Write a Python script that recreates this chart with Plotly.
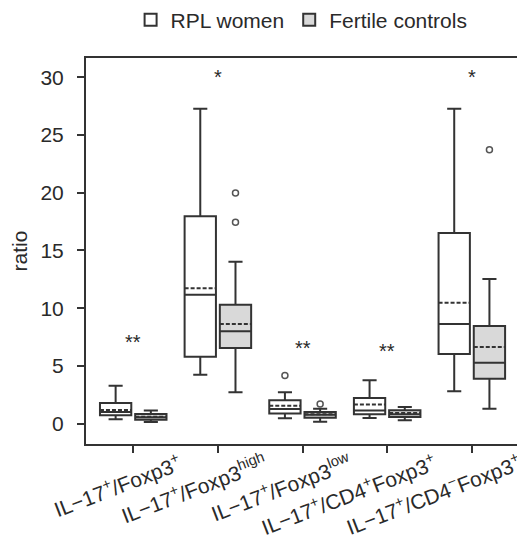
import plotly.graph_objects as go

# ---- data ----
categories = [
    "IL−17<sup>+</sup>/Foxp3<sup>+</sup>",
    "IL−17<sup>+</sup>/Foxp3<sup>high</sup>",
    "IL−17<sup>+</sup>/Foxp3<sup>low</sup>",
    "IL−17<sup>+</sup>/CD4<sup>+</sup>Foxp3<sup>+</sup>",
    "IL−17<sup>+</sup>/CD4<sup>−</sup>Foxp3<sup>+</sup>",
]

rpl_lower = [0.38, 4.24, 0.47, 0.49, 2.8]
rpl_q1 = [0.72, 5.8, 0.87, 0.81, 6.03]
rpl_median = [1.0, 11.17, 1.27, 1.13, 8.63]
rpl_mean = [1.18, 11.73, 1.56, 1.65, 10.48]
rpl_q3 = [1.78, 17.96, 2.03, 2.23, 16.51]
rpl_upper = [3.28, 27.27, 2.72, 3.76, 27.27]
rpl_outliers = [[], [], [4.16], [], []]

ctl_lower = [0.15, 2.71, 0.17, 0.29, 1.3]
ctl_q1 = [0.35, 6.55, 0.52, 0.58, 3.9]
ctl_median = [0.55, 8.0, 0.78, 0.81, 5.28]
ctl_mean = [0.61, 8.63, 0.81, 0.93, 6.64]
ctl_q3 = [0.84, 10.3, 1.01, 1.16, 8.46]
ctl_upper = [1.13, 14.03, 1.3, 1.45, 12.53]
ctl_outliers = [[], [19.97, 17.44], [1.71], [], [23.72]]

sig_marks = ["**", "*", "**", "**", "*"]
sig_y = [6.53, 29.5, 6.03, 5.77, 29.5]

y_ticks = [0, 5, 10, 15, 20, 25, 30]

# ---- style ----
FONT = "Liberation Sans, Arial, sans-serif"
TXT = "#2a2a2a"
LINE = "#333333"
OFF = 0.208
BOXW = 0.37

idx = list(range(len(categories)))
fig = go.Figure()


def add_series(name, off, lower, q1, med, mean, q3, upper, outl, fill):
    xs = [i + off for i in idx]
    fig.add_trace(go.Box(
        name=name, x=xs, lowerfence=lower, q1=q1, median=med, mean=mean,
        q3=q3, upperfence=upper, boxmean=True, boxpoints=False,
        width=BOXW, whiskerwidth=0.45, fillcolor=fill,
        line=dict(color=LINE, width=2), showlegend=True,
    ))
    ox, oy = [], []
    for i, vals in zip(idx, outl):
        for v in vals:
            ox.append(i + off)
            oy.append(v)
    fig.add_trace(go.Scatter(
        x=ox, y=oy, mode="markers", showlegend=False, hoverinfo="skip",
        marker=dict(symbol="circle-open", size=6, color="#555555",
                    line=dict(width=1.5)),
    ))


add_series("RPL women", -OFF, rpl_lower, rpl_q1, rpl_median, rpl_mean,
           rpl_q3, rpl_upper, rpl_outliers, "white")
add_series("Fertile controls", OFF, ctl_lower, ctl_q1, ctl_median, ctl_mean,
           ctl_q3, ctl_upper, ctl_outliers, "#d9d9d9")

annotations = []
for i, m, y in zip(idx, sig_marks, sig_y):
    annotations.append(dict(
        x=i, y=y, xref="x", yref="y", text=m, showarrow=False,
        font=dict(family=FONT, size=20, color=TXT), yshift=6,
    ))
for i, lab in zip(idx, categories):
    annotations.append(dict(
        x=i, y=0, xref="x", yref="paper", text=lab, showarrow=False,
        textangle=-21, xanchor="right", yanchor="top", xshift=55, yshift=-2,
        font=dict(family=FONT, size=21, color=TXT),
    ))

fig.update_layout(
    width=525, height=540,
    margin=dict(l=78, r=7, t=50, b=104, autoexpand=False),
    paper_bgcolor="white", plot_bgcolor="white",
    font=dict(family=FONT, size=21, color=TXT),
    showlegend=True,
    legend=dict(orientation="h", x=0.49, xanchor="center", y=1.045,
                yanchor="bottom", font=dict(size=21, color=TXT),
                itemwidth=30, bgcolor="rgba(0,0,0,0)"),
    annotations=annotations,
)
fig.update_xaxes(
    range=[-0.558, 4.64], tickvals=idx, showticklabels=False,
    ticks="outside", ticklen=7, tickwidth=2, tickcolor=LINE,
    showline=True, mirror=True, linecolor=LINE, linewidth=2,
    showgrid=False, zeroline=False,
)
fig.update_yaxes(
    range=[-1.76, 31.66], tickvals=y_ticks, ticks="outside", ticklen=7,
    tickwidth=2, tickcolor=LINE, showline=True, mirror=True, linecolor=LINE,
    linewidth=2, showgrid=False, zeroline=False, ticklabelstandoff=9,
    title=dict(text="ratio", font=dict(size=21, color=TXT), standoff=26),
    tickfont=dict(size=21, color=TXT),
)

fig.write_html("out.html")
